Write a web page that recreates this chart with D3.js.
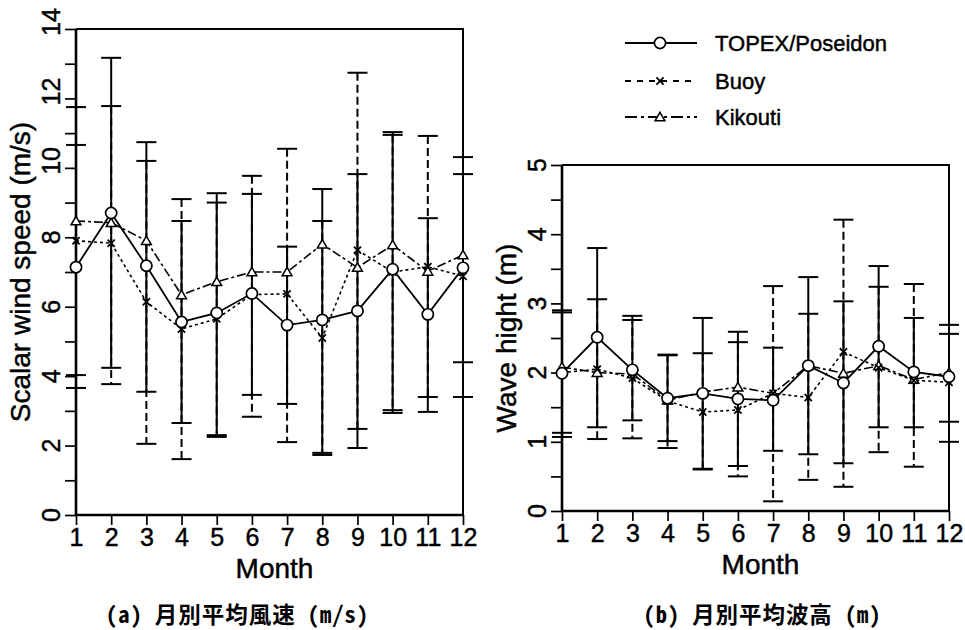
<!DOCTYPE html>
<html>
<head>
<meta charset="utf-8">
<script src="https://cdn.jsdelivr.net/npm/d3@7"></script>
<style>
  body { margin: 0; background: #fff; }
  text { fill: #000; }
  .heavy { stroke: #000; stroke-width: 0.45px; }
</style>
</head>
<body>
<svg id="chart" width="965" height="630"></svg>
<script>
// ---- data ----
const months = [1, 2, 3, 4, 5, 6, 7, 8, 9, 10, 11, 12];
const seriesNames = ["TOPEX/Poseidon", "Buoy", "Kikouti"];

// (a) monthly mean scalar wind speed (m/s), with error-bar limits
const windTopex   = [7.14, 8.70, 7.18, 5.56, 5.82, 6.38, 5.47, 5.62, 5.88, 7.08, 5.78, 7.12];
const windTopexHi = [10.66, 13.17, 10.74, 8.47, 9.27, 9.25, 7.73, 9.39, 9.82, 11.03, 8.55, 9.82];
const windTopexLo = [3.66, 4.24, 3.55, 2.65, 2.30, 3.46, 3.20, 1.79, 1.93, 3.02, 2.97, 4.40];
const windBuoy    = [7.90, 7.83, 6.14, 5.36, 5.65, 6.35, 6.37, 5.10, 7.63, 7.00, 7.15, 6.88];
const windBuoyHi  = [11.75, 11.78, 10.20, 9.10, 9.00, 9.77, 10.55, 8.47, 12.74, 10.95, 10.92, 10.31];
const windBuoyLo  = [4.03, 3.77, 2.05, 1.61, 2.25, 2.83, 2.10, 1.73, 2.48, 2.94, 3.40, 3.40];
const windKikouti = [8.47, 8.42, 7.90, 6.34, 6.72, 7.00, 7.00, 7.80, 7.13, 7.78, 7.02, 7.49];

// (b) monthly mean wave height (m), with error-bar limits
const waveTopex   = [1.99, 2.51, 2.04, 1.63, 1.70, 1.62, 1.60, 2.10, 1.85, 2.38, 2.01, 1.94];
const waveTopexHi = [2.87, 3.80, 2.76, 2.25, 2.79, 2.59, 2.36, 3.38, 3.03, 3.54, 2.79, 2.56];
const waveTopexLo = [1.13, 1.21, 1.31, 1.01, 0.61, 0.65, 0.87, 0.82, 0.69, 1.21, 1.21, 1.29];
const waveBuoy    = [2.00, 2.05, 1.92, 1.59, 1.43, 1.46, 1.70, 1.64, 2.30, 2.07, 1.89, 1.86];
const waveBuoyHi  = [2.90, 3.06, 2.82, 2.26, 2.28, 2.44, 3.25, 2.85, 4.21, 3.24, 3.28, 2.69];
const waveBuoyLo  = [1.07, 1.04, 1.05, 0.91, 0.60, 0.50, 0.14, 0.45, 0.35, 0.85, 0.64, 1.00];
const waveKikouti = [2.08, 2.00, 1.98, 1.60, 1.72, 1.79, 1.70, 2.10, 1.99, 2.10, 1.90, 2.00];

// axis ticks and labels
const windTicks = [0, 1, 2, 3, 4, 5, 6, 7, 8, 9, 10, 11, 12, 13, 14];
const windTickLabels = [0, 2, 4, 6, 8, 10, 12, 14];
const waveTicks = [0, 0.5, 1, 1.5, 2, 2.5, 3, 3.5, 4, 4.5, 5];
const waveTickLabels = [0, 1, 2, 3, 4, 5];

const captionA = "(a) 月別平均風速 (m/s)";
const captionB = "(b) 月別平均波高 (m)";

// ---- drawing ----
const svg = d3.select("#chart");
svg.append("rect").attr("width", 965).attr("height", 630).attr("fill", "#fff");

const latin = "'Liberation Sans', Arial, Helvetica, sans-serif";
const cjk = "'Noto Sans Mono CJK JP', 'Noto Sans CJK JP', sans-serif";

const styles = {
  topex:   { dash: null,        width: 1.8 },
  buoy:    { dash: "3,3",       width: 1.6 },
  kikouti: { dash: "9,3,3,3",   width: 1.6 }
};

function marker(g, kind, cx, cy) {
  if (kind === "topex") {
    g.append("circle").attr("cx", cx).attr("cy", cy).attr("r", 5.6)
      .attr("fill", "#fff").attr("stroke", "#000").attr("stroke-width", 1.7);
  } else if (kind === "buoy") {
    const s = 3.6;
    g.append("path")
      .attr("d", `M${cx - s},${cy - s}L${cx + s},${cy + s}M${cx - s},${cy + s}L${cx + s},${cy - s}`)
      .attr("stroke", "#000").attr("stroke-width", 1.8).attr("fill", "none");
  } else {
    g.append("path").attr("d", d3.symbol(d3.symbolTriangle, 42)())
      .attr("transform", `translate(${cx},${cy + 1})`)
      .attr("fill", "#fff").attr("stroke", "#000").attr("stroke-width", 1.5);
  }
}

function drawPanel(cfg) {
  const x = d3.scaleLinear().domain([1, 12]).range([cfg.left, cfg.right]);
  const y = d3.scaleLinear().domain([0, cfg.yMax]).range([cfg.bottom, cfg.top]);
  const g = svg.append("g");

  // frame: top and right edges
  g.append("path")
    .attr("d", `M${cfg.left},${cfg.top}H${cfg.right}V${cfg.bottom}`)
    .attr("fill", "none").attr("stroke", "#000").attr("stroke-width", 2);

  // y axis ticks
  const yAxis = d3.axisLeft(y).tickValues(cfg.yTicks).tickSize(11).tickFormat("");
  const ya = g.append("g").attr("transform", `translate(${cfg.left},0)`).call(yAxis);
  ya.select(".domain").remove();
  ya.selectAll(".tick line").attr("stroke", "#000").attr("stroke-width", 1.7);

  // y tick labels, rotated
  const fs = 25;
  g.selectAll(".ylab").data(cfg.yLabels).enter().append("text")
    .attr("class", "ylab heavy")
    .attr("transform", d => `translate(${cfg.left - 16},${y(d) + 7}) rotate(-90)`)
    .attr("text-anchor", "start")
    .attr("font-family", latin).attr("font-size", fs)
    .text(d => d);

  // x axis
  const xAxis = d3.axisBottom(x).tickValues(months).tickSize(10).tickPadding(3).tickFormat(d => d);
  const xa = g.append("g").attr("transform", `translate(0,${cfg.bottom})`).call(xAxis);
  xa.select(".domain").remove();
  xa.selectAll(".tick line").attr("stroke", "#000").attr("stroke-width", 1.7);
  xa.selectAll(".tick text").attr("class", "heavy")
    .attr("font-family", latin).attr("font-size", fs).attr("fill", "#000");

  // axis lines
  g.append("path")
    .attr("d", `M${cfg.left},${cfg.top}V${cfg.bottom}H${cfg.right}`)
    .attr("fill", "none").attr("stroke", "#000").attr("stroke-width", 2.6);

  // axis titles
  g.append("text").attr("class", "heavy")
    .attr("x", (cfg.left + cfg.right) / 2 + 5).attr("y", cfg.bottom + 63)
    .attr("text-anchor", "middle").attr("font-family", latin).attr("font-size", 28)
    .text("Month");
  g.append("text").attr("class", "heavy")
    .attr("transform", `translate(${cfg.titleX},${(cfg.top + cfg.bottom) / 2}) rotate(-90)`)
    .attr("text-anchor", "middle").attr("font-family", latin).attr("font-size", 28)
    .text(cfg.yTitle);

  // error bars: buoy (dashed) under topex (solid)
  const bars = [
    { hi: cfg.buoyHi, lo: cfg.buoyLo, dash: "8,4" },
    { hi: cfg.topexHi, lo: cfg.topexLo, dash: null }
  ];
  bars.forEach(b => {
    const eg = g.append("g").attr("stroke", "#000").attr("stroke-width", 2).attr("fill", "none");
    months.forEach((m, i) => {
      const cx = x(m);
      eg.append("line").attr("x1", cx).attr("x2", cx)
        .attr("y1", y(b.hi[i])).attr("y2", y(b.lo[i]))
        .attr("stroke-dasharray", b.dash);
      [b.hi[i], b.lo[i]].forEach(v => {
        eg.append("line").attr("x1", cx - 10).attr("x2", cx + 10)
          .attr("y1", y(v)).attr("y2", y(v));
      });
    });
  });

  // series lines
  const line = d3.line().x((d, i) => x(months[i])).y(d => y(d));
  const series = [
    { key: "kikouti", values: cfg.kikouti },
    { key: "buoy", values: cfg.buoy },
    { key: "topex", values: cfg.topex }
  ];
  series.forEach(s => {
    g.append("path").datum(s.values).attr("d", line)
      .attr("fill", "none").attr("stroke", "#000")
      .attr("stroke-width", styles[s.key].width)
      .attr("stroke-dasharray", styles[s.key].dash);
  });
  // markers
  series.forEach(s => {
    const mg = g.append("g");
    s.values.forEach((v, i) => marker(mg, s.key, x(months[i]), y(v)));
  });

  // caption
  g.append("text")
    .attr("x", cfg.capX).attr("y", 623)
    .attr("text-anchor", "middle")
    .attr("font-family", cjk).attr("font-size", 22.5).attr("font-weight", "bold")
    .attr("textLength", cfg.capLen).attr("lengthAdjust", "spacing")
    .text(cfg.caption);
}

drawPanel({
  left: 76, right: 463, top: 29, bottom: 515, yMax: 14,
  yTicks: windTicks, yLabels: windTickLabels,
  titleX: 30, yTitle: "Scalar wind speed (m/s)",
  topex: windTopex, topexHi: windTopexHi, topexLo: windTopexLo,
  buoy: windBuoy, buoyHi: windBuoyHi, buoyLo: windBuoyLo,
  kikouti: windKikouti,
  caption: captionA, capX: 237, capLen: 262
});

drawPanel({
  left: 562, right: 949, top: 165, bottom: 511, yMax: 5,
  yTicks: waveTicks, yLabels: waveTickLabels,
  titleX: 516, yTitle: "Wave hight (m)",
  topex: waveTopex, topexHi: waveTopexHi, topexLo: waveTopexLo,
  buoy: waveBuoy, buoyHi: waveBuoyHi, buoyLo: waveBuoyLo,
  kikouti: waveKikouti,
  caption: captionB, capX: 762, capLen: 237
});

// legend
const legendRows = [
  { key: "topex", y: 43, dash: null },
  { key: "buoy", y: 81, dash: "6,6" },
  { key: "kikouti", y: 117, dash: "12,4,3,4" }
];
const lg = svg.append("g");
legendRows.forEach((r, i) => {
  lg.append("line").attr("x1", 625).attr("x2", 697).attr("y1", r.y).attr("y2", r.y)
    .attr("stroke", "#000").attr("stroke-width", 2).attr("stroke-dasharray", r.dash);
  marker(lg, r.key, 660, r.y);
  lg.append("text").attr("class", "heavy").attr("x", 715).attr("y", r.y + 8)
    .attr("font-family", latin).attr("font-size", 22)
    .text(seriesNames[i]);
});
</script>
</body>
</html>
